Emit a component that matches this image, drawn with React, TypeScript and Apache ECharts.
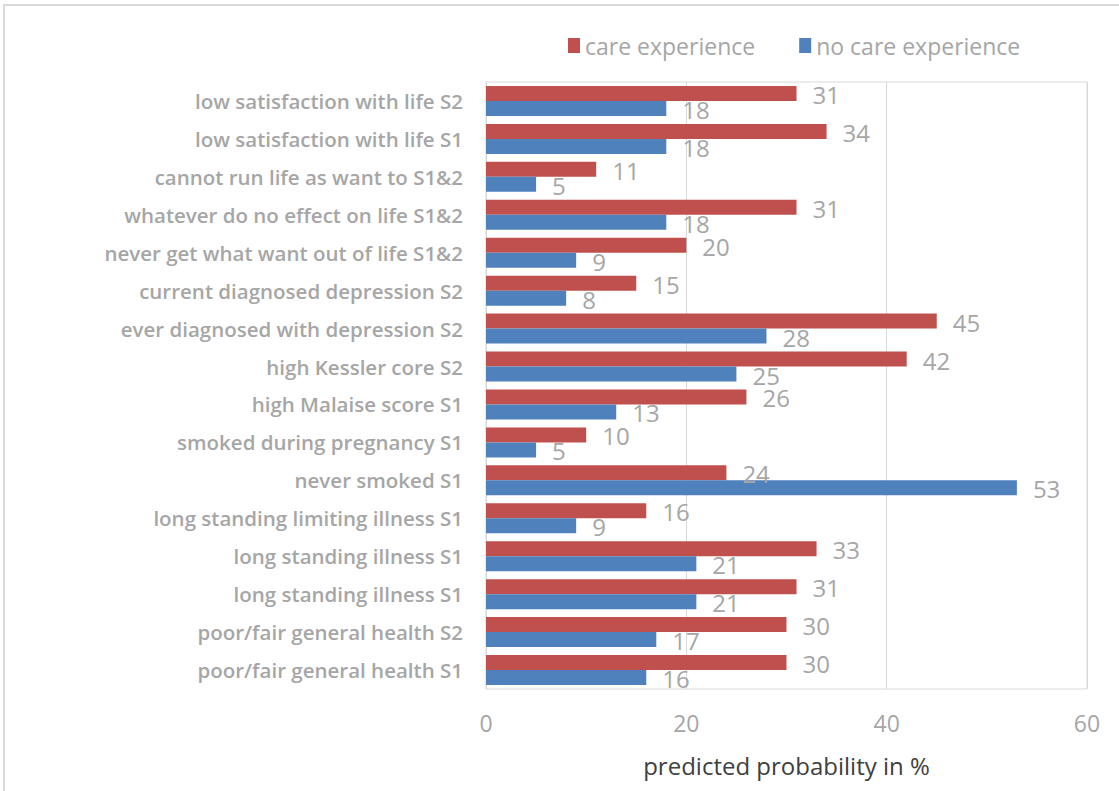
import React, { useEffect, useRef } from "react";
import * as echarts from "echarts";

const categories = [
  "low satisfaction with life S2",
  "low satisfaction with life S1",
  "cannot run life as want to S1&2",
  "whatever do no effect on life S1&2",
  "never get what want out of life S1&2",
  "current diagnosed depression S2",
  "ever diagnosed with depression S2",
  "high Kessler core S2",
  "high Malaise score S1",
  "smoked during pregnancy S1",
  "never smoked S1",
  "long standing limiting illness S1",
  "long standing illness S1",
  "long standing illness S1",
  "poor/fair general health S2",
  "poor/fair general health S1",
];

const careExperience = [31, 34, 11, 31, 20, 15, 45, 42, 26, 10, 24, 16, 33, 31, 30, 30];
const noCareExperience = [18, 18, 5, 18, 9, 8, 28, 25, 13, 5, 53, 9, 21, 21, 17, 16];

const xTicks = [0, 20, 40, 60];

const FONT = "'Open Sans', 'Noto Sans', sans-serif";
const GREY = "#a6a6a6";

const valueLabel = {
  show: true,
  position: "right",
  distance: 16,
  offset: [0, 1],
  color: GREY,
  fontSize: 24,
  fontFamily: FONT,
};

export default function App() {
  const ref = useRef<HTMLDivElement>(null);

  useEffect(() => {
    if (!ref.current) return;
    const chart = echarts.init(ref.current, null, { renderer: "svg" });
    chart.setOption({
      animation: false,
      backgroundColor: "#ffffff",
      graphic: [
        {
          type: "rect",
          shape: { x: 4, y: 5, width: 1130, height: 800 },
          style: { fill: "none", stroke: "#d9d9d9", lineWidth: 2 },
          silent: true,
        },
      ],
      legend: {
        top: 29,
        left: 563,
        itemWidth: 12,
        itemHeight: 15,
        itemGap: 44,
        icon: "rect",
        textStyle: { color: GREY, fontSize: 23, fontFamily: FONT },
        data: ["care experience", "no care experience"],
      },
      grid: {
        left: 486,
        right: 32,
        top: 82,
        bottom: 102,
        show: true,
        borderColor: "#d9d9d9",
        borderWidth: 1,
      },
      xAxis: {
        type: "value",
        min: xTicks[0],
        max: xTicks[xTicks.length - 1],
        interval: 20,
        name: "predicted probability in %",
        nameLocation: "middle",
        nameGap: 64,
        nameTextStyle: { color: "#404040", fontSize: 24, fontFamily: FONT },
        axisLine: { show: false },
        axisTick: { show: false },
        axisLabel: { color: GREY, fontSize: 23, fontFamily: FONT, margin: 22 },
        splitLine: { lineStyle: { color: "#d9d9d9", width: 1 } },
      },
      yAxis: {
        type: "category",
        inverse: true,
        data: categories,
        axisLine: { show: false },
        axisTick: { show: false },
        axisLabel: {
          color: GREY,
          fontSize: 20.5,
          fontWeight: 600,
          fontFamily: FONT,
          margin: 23,
        },
      },
      series: [
        {
          name: "care experience",
          type: "bar",
          data: careExperience,
          barWidth: 15,
          barGap: "0%",
          itemStyle: { color: "#c0504d" },
          label: valueLabel,
        },
        {
          name: "no care experience",
          type: "bar",
          data: noCareExperience,
          barWidth: 15,
          barGap: "0%",
          itemStyle: { color: "#4f81bd" },
          label: valueLabel,
        },
      ],
    });
    return () => chart.dispose();
  }, []);

  return (
    <div
      ref={ref}
      style={{ position: "absolute", left: 0, top: 0, width: 1119, height: 791 }}
    />
  );
}
